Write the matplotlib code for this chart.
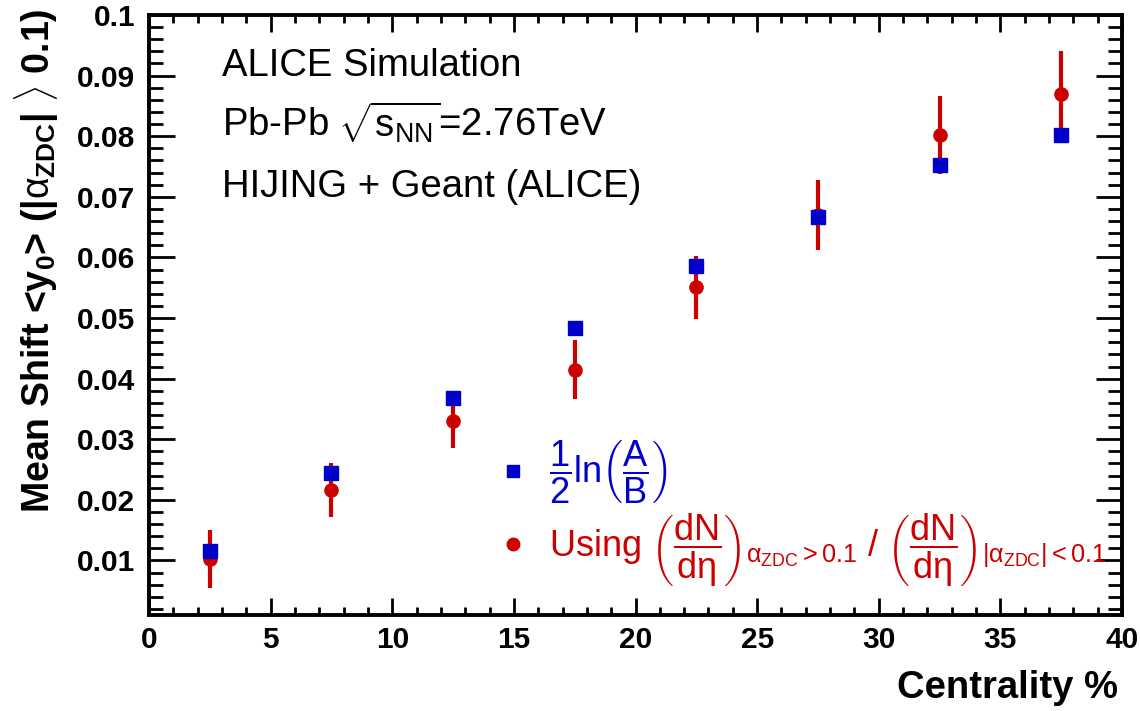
import matplotlib
matplotlib.use('Agg')
import matplotlib.pyplot as plt
from matplotlib.lines import Line2D
from matplotlib.ticker import MultipleLocator, FuncFormatter

plt.rcParams['font.family'] = ['Liberation Sans', 'DejaVu Sans']
plt.rcParams['mathtext.fontset'] = 'custom'
plt.rcParams['mathtext.rm'] = 'Liberation Sans'
plt.rcParams['mathtext.it'] = 'Liberation Sans'
plt.rcParams['mathtext.bf'] = 'Liberation Sans:bold'

# centrality bin centres (%)
centrality = [2.5, 7.5, 12.5, 17.5, 22.5, 27.5, 32.5, 37.5]
# 1/2 ln(A/B)
shift_ln = [0.0115, 0.0245, 0.0368, 0.0483, 0.0586, 0.0666, 0.0752, 0.0802]
# ratio of dN/deta
shift_dndeta = [0.0103, 0.0216, 0.0330, 0.0415, 0.0551, 0.0670, 0.0802, 0.0870]
shift_dndeta_err = [0.0048, 0.0045, 0.0045, 0.0048, 0.0052, 0.0058, 0.0065, 0.0071]

red = "#cc0000"
blue = "#0000cc"

fig = plt.figure(figsize=(11.4, 7.11), dpi=100)
ax = fig.add_axes([149 / 1140, 96 / 711, 973 / 1140, 600 / 711])

ax.errorbar(centrality, shift_dndeta, yerr=shift_dndeta_err, fmt="o", color=red,
            ms=9.5, elinewidth=3, capsize=0, zorder=3)
ax.plot(centrality, shift_ln, "s", color=blue, ms=9.5, zorder=4)

ax.set_xlim(0, 40)
ax.set_ylim(0.001, 0.1)
ax.xaxis.set_major_locator(MultipleLocator(5))
ax.xaxis.set_minor_locator(MultipleLocator(1))
ax.yaxis.set_major_locator(MultipleLocator(0.01))
ax.yaxis.set_minor_locator(MultipleLocator(0.002))
ax.yaxis.set_major_formatter(FuncFormatter(lambda v, p: f"{v:g}"))

for s in ax.spines.values():
    s.set_linewidth(2.8)
ax.tick_params(which="both", direction="in", top=True, right=True, width=2)
ax.tick_params(axis="x", which="major", length=12, pad=8)
ax.tick_params(axis="x", which="minor", length=6)
ax.tick_params(axis="y", which="major", length=19, pad=10)
ax.tick_params(axis="y", which="minor", length=10)
for lab in ax.get_xticklabels() + ax.get_yticklabels():
    lab.set_fontsize(21.5)
    lab.set_fontweight("bold")

fig.text(1118 / 1140, 1 - 698 / 711, "Centrality %", ha="right", va="baseline",
         fontsize=27.5, fontweight="bold")
fig.text(37 / 1140, 1 - 8 / 711,
         r"Mean Shift <y$_{\mathbf{0}}$> (|$\alpha_{\mathbf{ZDC}}$| $\rangle$ 0.1)",
         rotation=90, ha="center", va="top", fontsize=27, fontweight="bold")

ax.text(222 / 1140, 1 - 76 / 711, "ALICE Simulation", transform=fig.transFigure,
        fontsize=27.5, va="baseline")
ax.text(222 / 1140, 1 - 137 / 711, r"Pb-Pb $\sqrt{s_{NN}}$=2.76TeV",
        transform=fig.transFigure, fontsize=27.5, va="baseline")
ax.text(222 / 1140, 1 - 197 / 711, "HIJING + Geant (ALICE)",
        transform=fig.transFigure, fontsize=27.5, va="baseline")

handles = [
    Line2D([], [], ls="none", marker="s", color=blue, ms=9),
    Line2D([], [], ls="none", marker="o", color=red, ms=9),
]
labels = [
    r"$\dfrac{1}{2}\mathrm{ln}\left(\dfrac{A}{B}\right)$",
    r"Using $\left(\dfrac{dN}{d\eta}\right)_{\alpha_{ZDC}>0.1}$ / "
    r"$\left(\dfrac{dN}{d\eta}\right)_{|\alpha_{ZDC}|<0.1}$",
]
leg = ax.legend(handles, labels, loc="upper left", bbox_to_anchor=(0.322, 0.348),
                frameon=False, fontsize=26, handlelength=1.0, handletextpad=0.5,
                labelspacing=0.15)
for t, c in zip(leg.get_texts(), [blue, red]):
    t.set_color(c)

fig.savefig("out.png", dpi=100)
